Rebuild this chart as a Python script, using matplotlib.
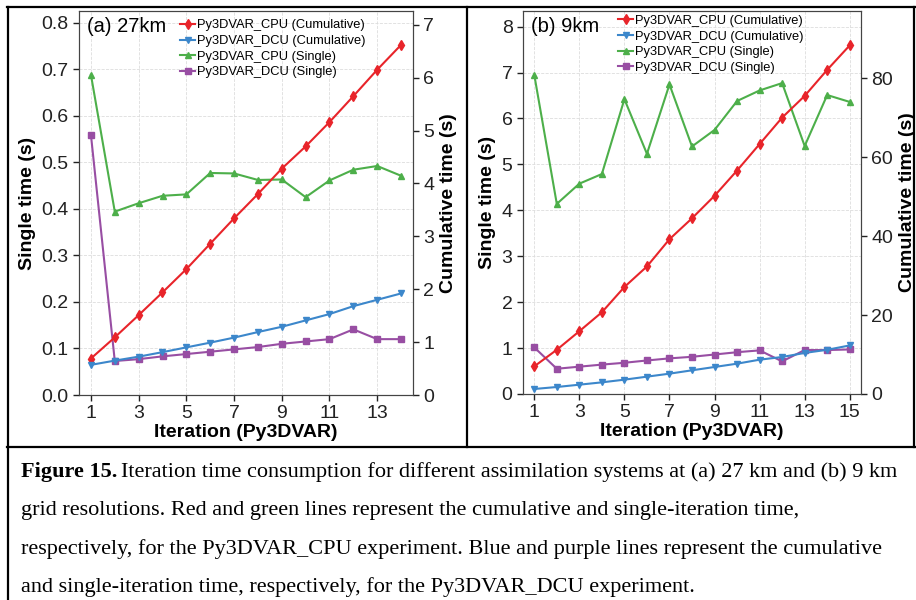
import numpy as np
import matplotlib
matplotlib.use('Agg')
import matplotlib.pyplot as plt
from matplotlib.lines import Line2D

plt.rcParams['font.family'] = ['Liberation Sans', 'DejaVu Sans']

# ---- data ----
iter_a = np.arange(1, 15)
cpu_cum_a = [0.69, 1.09, 1.51, 1.94, 2.38, 2.86, 3.34, 3.80, 4.28, 4.70, 5.16, 5.65, 6.15, 6.62]
dcu_cum_a = [0.57, 0.65, 0.725, 0.81, 0.90, 0.99, 1.085, 1.19, 1.29, 1.41, 1.53, 1.68, 1.80, 1.92]
cpu_sgl_a = [0.688, 0.394, 0.412, 0.428, 0.431, 0.477, 0.476, 0.462, 0.463, 0.425, 0.461, 0.484, 0.492, 0.471]
dcu_sgl_a = [0.559, 0.073, 0.077, 0.083, 0.088, 0.093, 0.098, 0.103, 0.110, 0.115, 0.120, 0.141, 0.120, 0.120]

iter_b = np.arange(1, 16)
cpu_cum_b = [7.0, 11.2, 15.9, 20.7, 27.1, 32.3, 39.2, 44.5, 50.2, 56.6, 63.3, 70.0, 75.5, 82.1, 88.3]
dcu_cum_b = [1.27, 1.77, 2.36, 2.95, 3.63, 4.39, 5.15, 6.0, 6.84, 7.68, 8.69, 9.37, 10.4, 11.2, 12.3]
cpu_sgl_b = [6.95, 4.14, 4.58, 4.79, 6.42, 5.23, 6.74, 5.39, 5.75, 6.38, 6.61, 6.77, 5.40, 6.51, 6.36]
dcu_sgl_b = [1.015, 0.55, 0.595, 0.64, 0.68, 0.73, 0.776, 0.81, 0.86, 0.91, 0.95, 0.71, 0.957, 0.957, 0.97]

labels = ['Py3DVAR_CPU (Cumulative)', 'Py3DVAR_DCU (Cumulative)',
          'Py3DVAR_CPU (Single)', 'Py3DVAR_DCU (Single)']
colors = ['#e8242a', '#3c87cb', '#4daf4a', '#984ea3']

fig = plt.figure(figsize=(9.16, 6), dpi=100)
W, H = 916.0, 600.0


def panel(rect, it, cc, dc, cs, ds, ylim1, yt1, ylim2, yt2, xlim, xt, tag, leg_xy):
    ax = fig.add_axes(rect)
    ax2 = ax.twinx()
    l3, = ax.plot(it, cs, color=colors[2], marker='^', ms=4.5, lw=1.5, label=labels[2])
    l4, = ax.plot(it, ds, color=colors[3], marker='s', ms=4, lw=1.5, label=labels[3])
    l1, = ax2.plot(it, cc, color=colors[0], marker='d', ms=5, lw=1.5, label=labels[0])
    l2, = ax2.plot(it, dc, color=colors[1], marker='v', ms=4.5, lw=1.5, label=labels[1])
    ax.set_xlim(*xlim)
    ax.set_xticks(xt)
    ax.set_ylim(*ylim1)
    ax.set_yticks(yt1)
    ax2.set_ylim(*ylim2)
    ax2.set_yticks(yt2)
    ax.grid(True, color='#dddddd', ls='--', lw=0.6)
    for a in (ax, ax2):
        a.tick_params(labelsize=14, length=4, width=1, colors='#222222')
        for s in a.spines.values():
            s.set_color('#444444')
    ax.set_xlabel('Iteration (Py3DVAR)', fontsize=14, fontweight='bold', labelpad=1)
    ax.set_ylabel('Single time (s)', fontsize=14, fontweight='bold', labelpad=4)
    ax2.set_ylabel('Cumulative time (s)', fontsize=14, fontweight='bold', labelpad=4)
    ax.text(0.025, 0.985, tag, transform=ax.transAxes, fontsize=14.5, va='top', ha='left')
    ax2.legend(handles=[l1, l2, l3, l4], loc='upper left', bbox_to_anchor=leg_xy,
               frameon=False, fontsize=9.3, handlelength=1.2, handletextpad=0.15,
               labelspacing=0.28, borderpad=0, borderaxespad=0)
    return ax, ax2


panel([79 / W, 1 - 395 / H, (413 - 79) / W, (395 - 11) / H],
      iter_a, cpu_cum_a, dcu_cum_a, cpu_sgl_a, dcu_sgl_a,
      (0, 0.825), np.arange(0, 0.81, 0.1), (0, 7.26), range(0, 8),
      (0.5, 14.5), range(1, 15, 2), '(a) 27km', (0.302, 0.978))
ax_b, ax2_b = panel([523 / W, 1 - 394 / H, (861 - 523) / W, (394 - 11) / H],
                    iter_b, cpu_cum_b, dcu_cum_b, cpu_sgl_b, dcu_sgl_b,
                    (0, 8.34), range(0, 9), (0, 97), range(0, 81, 20),
                    (0.5, 15.5), range(1, 16, 2), '(b) 9km', (0.281, 0.99))

# frame lines like a table around the figure
def hline(y, x0, x1):
    fig.add_artist(Line2D([x0 / W, x1 / W], [1 - y / H, 1 - y / H], color='black', lw=1.6))

def vline(x, y0, y1):
    fig.add_artist(Line2D([x / W, x / W], [1 - y0 / H, 1 - y1 / H], color='black', lw=1.6))

hline(7, 7, 916)
hline(447, 7, 916)
vline(7.5, 7, 600)
vline(467, 7, 447)
vline(914, 7, 447)

# caption
cap_font = ['Liberation Serif', 'DejaVu Serif']
fs = 16
bold = fig.text(21 / W, 1 - 477 / H, 'Figure 15.', fontsize=fs, fontweight='bold',
                family=cap_font, va='baseline', ha='left')
fig.canvas.draw()
r = fig.canvas.get_renderer()
bb = bold.get_window_extent(r)
fig.text(bb.x1 / W + 4 / W, 1 - 477 / H,
         'Iteration time consumption for different assimilation systems at (a) 27 km and (b) 9 km',
         fontsize=fs, family=cap_font, va='baseline', ha='left')
rest = ['grid resolutions. Red and green lines represent the cumulative and single-iteration time,',
        'respectively, for the Py3DVAR_CPU experiment. Blue and purple lines represent the cumulative',
        'and single-iteration time, respectively, for the Py3DVAR_DCU experiment.']
for y, t in zip([515.5, 554, 592], rest):
    fig.text(21 / W, 1 - y / H, t, fontsize=fs, family=cap_font, va='baseline', ha='left')

fig.savefig('out.png', dpi=100)
